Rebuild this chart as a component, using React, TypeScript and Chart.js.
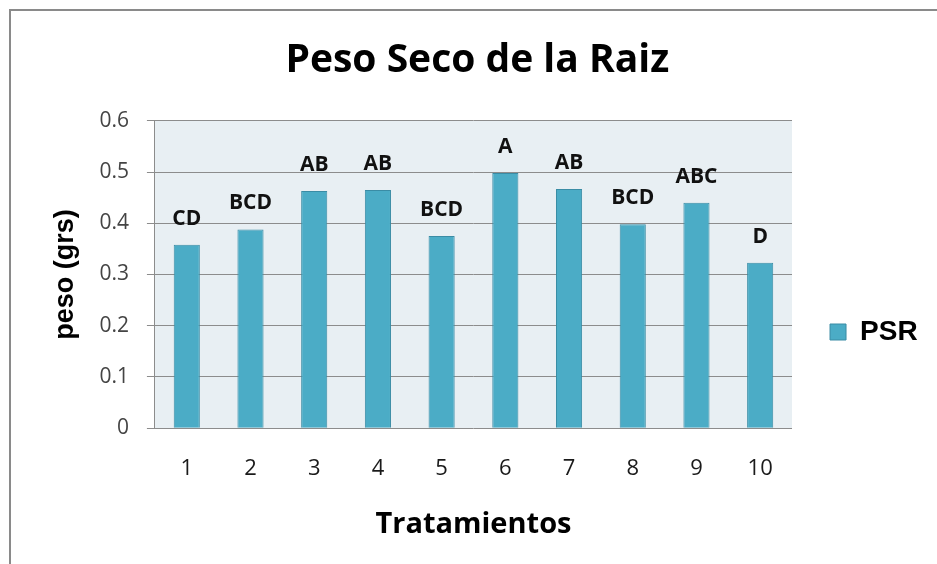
import React, { useEffect, useRef } from 'react';
import { Chart, registerables } from 'chart.js';

Chart.register(...registerables);

// ---- data ----
const categories = ['1', '2', '3', '4', '5', '6', '7', '8', '9', '10'];
const psrValues = [0.358, 0.388, 0.463, 0.465, 0.375, 0.498, 0.467, 0.398, 0.44, 0.323];
const groupLetters = ['CD', 'BCD', 'AB', 'AB', 'BCD', 'A', 'AB', 'BCD', 'ABC', 'D'];
const yTickValues = [0, 0.1, 0.2, 0.3, 0.4, 0.5, 0.6];
const seriesLabel = 'PSR';
const chartTitle = 'Peso Seco de la Raiz';
const xAxisTitle = 'Tratamientos';
const yAxisTitle = 'peso (grs)';

const BAR_FILL = '#4BACC6';
const BAR_EDGE = '#3a8ca5';
const PLOT_BG = '#e8eff3';
const GRID = '#8c8c8c';

const plotBackground = {
  id: 'plotBackground',
  beforeDraw(chart: any) {
    const { ctx, chartArea } = chart;
    if (!chartArea) return;
    ctx.save();
    ctx.fillStyle = PLOT_BG;
    ctx.fillRect(chartArea.left, chartArea.top, chartArea.right - chartArea.left, chartArea.bottom - chartArea.top);
    ctx.restore();
  },
};

const letterLabels = {
  id: 'letterLabels',
  afterDatasetsDraw(chart: any) {
    const { ctx } = chart;
    const meta = chart.getDatasetMeta(0);
    ctx.save();
    ctx.font = 'bold 21px "Open Sans", sans-serif';
    ctx.fillStyle = '#111';
    ctx.textAlign = 'center';
    ctx.textBaseline = 'middle';
    meta.data.forEach((bar: any, i: number) => {
      ctx.fillText(groupLetters[i], bar.x, bar.y - 26);
    });
    ctx.restore();
  },
};

const legendShift = {
  id: 'legendShift',
  afterLayout(chart: any) {
    const lg = chart.legend;
    if (!lg) return;
    const shift = 55;
    lg.top += shift;
    lg.bottom += shift;
  },
};

export default function App() {
  const canvasRef = useRef<HTMLCanvasElement | null>(null);

  useEffect(() => {
    document.body.style.margin = '0';
    const canvas = canvasRef.current;
    if (!canvas) return;
    const chart = new Chart(canvas, {
      type: 'bar',
      data: {
        labels: categories,
        datasets: [
          {
            label: seriesLabel,
            data: psrValues,
            backgroundColor: BAR_FILL,
            borderColor: BAR_EDGE,
            borderWidth: 1,
            barPercentage: 0.41,
            categoryPercentage: 1,
          },
        ],
      },
      options: {
        animation: false,
        responsive: false,
        maintainAspectRatio: false,
        layout: { padding: { left: 27, right: 9.4, top: 0, bottom: 10 } },
        plugins: {
          title: {
            display: true,
            text: chartTitle,
            color: '#000',
            font: { family: '"Open Sans", sans-serif', size: 39, weight: 'bold' },
            padding: { top: 37, bottom: 37 },
          },
          legend: {
            display: true,
            position: 'right',
            align: 'center',
            labels: {
              boxWidth: 16,
              boxHeight: 16,
              padding: 38,
              color: '#000',
              font: { family: '"Liberation Sans", Arial, sans-serif', size: 28, weight: 'bold' },
            },
          },
          tooltip: { enabled: false },
        },
        scales: {
          x: {
            grid: { display: false, drawTicks: false },
            border: { display: false },
            ticks: {
              color: '#1a1a1a',
              padding: 27,
              font: { family: '"Open Sans", sans-serif', size: 22 },
            },
            title: {
              display: true,
              text: xAxisTitle,
              color: '#000',
              font: { family: '"Open Sans", sans-serif', size: 29, weight: 'bold' },
              padding: { top: -1, bottom: 11.6 },
            },
          },
          y: {
            min: 0,
            max: 0.6,
            afterBuildTicks(scale: any) {
              scale.ticks = yTickValues.map((v) => ({ value: v }));
            },
            grid: { color: GRID, lineWidth: 1, tickLength: 8, drawTicks: true },
            border: { display: true, color: GRID, width: 1 },
            ticks: {
              color: '#444',
              padding: 18,
              font: { family: '"Open Sans", sans-serif', size: 21 },
              callback: (v: any) => (Number(v) === 0 ? '0' : Number(v).toFixed(1)),
            },
            title: {
              display: true,
              text: yAxisTitle,
              color: '#000',
              font: { family: '"Liberation Sans", Arial, sans-serif', size: 27, weight: 'bold' },
              padding: { top: 22, bottom: 0 },
            },
          },
        },
      },
      plugins: [plotBackground, letterLabels, legendShift],
    });
    return () => chart.destroy();
  }, []);

  return (
    <div style={{ position: 'relative', width: 937, height: 564, overflow: 'hidden', background: '#fff' }}>
      <canvas ref={canvasRef} width={937} height={564} style={{ display: 'block', width: 937, height: 564 }} />
      <div
        style={{
          position: 'absolute',
          left: 9,
          top: 9,
          width: 2000,
          height: 2000,
          borderLeft: '2px solid #8a8a8a',
          borderTop: '2px solid #8a8a8a',
          pointerEvents: 'none',
        }}
      />
    </div>
  );
}
